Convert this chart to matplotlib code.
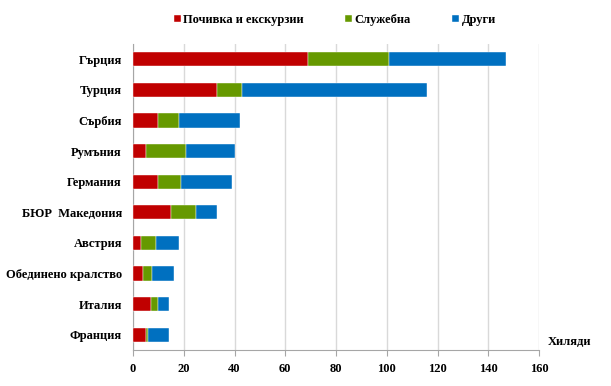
import matplotlib.pyplot as plt
import numpy as np

plt.rcParams['font.family'] = ['Liberation Serif', 'DejaVu Serif']

# Data (thousands)
countries = ["Гърция", "Турция", "Сърбия", "Румъния", "Германия",
             "БЮР  Македония", "Австрия", "Обединено кралство", "Италия", "Франция"]
leisure = [69, 33, 10, 5, 10, 15, 3, 4, 7, 5]
business = [32, 10, 8, 16, 9, 10, 6, 3.5, 3, 1]
other = [46, 73, 24, 19, 20, 8, 9, 8.5, 4, 8]
series_names = ["Почивка и екскурзии", "Служебна", "Други"]
xticks = [0, 20, 40, 60, 80, 100, 120, 140, 160]

colors = ["#C00000", "#669900", "#0070C0"]

fig = plt.figure(figsize=(6.11, 3.86), dpi=100)
ax = fig.add_axes([133 / 611, 1 - 350 / 386, 406 / 611, 306 / 386])

y = np.arange(len(countries))
left = np.zeros(len(countries))
for vals, name, c in zip([leisure, business, other], series_names, colors):
    ax.barh(y, vals, left=left, height=0.46, color=c, label=name,
            edgecolor="white", linewidth=0.3, zorder=3)
    left += np.array(vals)

ax.set_ylim(len(countries) - 0.5, -0.5)
ax.set_yticks(y)
ax.set_yticklabels(countries, fontsize=9, fontweight="bold")
ax.set_xlim(0, 160)
ax.set_xticks(xticks)
ax.set_xticklabels([str(t) for t in xticks], fontsize=9, fontweight="bold")
ax.grid(axis="x", color="#D9D9D9", linewidth=1, zorder=0)

for s in ["top", "right"]:
    ax.spines[s].set_visible(False)
ax.spines["left"].set_color("#A6A6A6")
ax.spines["bottom"].set_color("#A6A6A6")
ax.tick_params(axis="x", colors="#A6A6A6", length=4, labelcolor="black", pad=5)
ax.tick_params(axis="y", length=0, pad=8, labelcolor="black")

ax.text(1.075, 0.005, "Хиляди", transform=ax.transAxes, fontsize=9,
        fontweight="bold", ha="center", va="bottom")

handles, labels = ax.get_legend_handles_labels()
fig.legend(handles, labels, loc="center", bbox_to_anchor=(0.548, 1 - 20 / 386), ncol=3,
           frameon=False, handlelength=0.55, handleheight=0.55, handletextpad=0.2,
           columnspacing=3.3, prop={"size": 9, "weight": "bold"})

fig.savefig("out.png", dpi=100)
